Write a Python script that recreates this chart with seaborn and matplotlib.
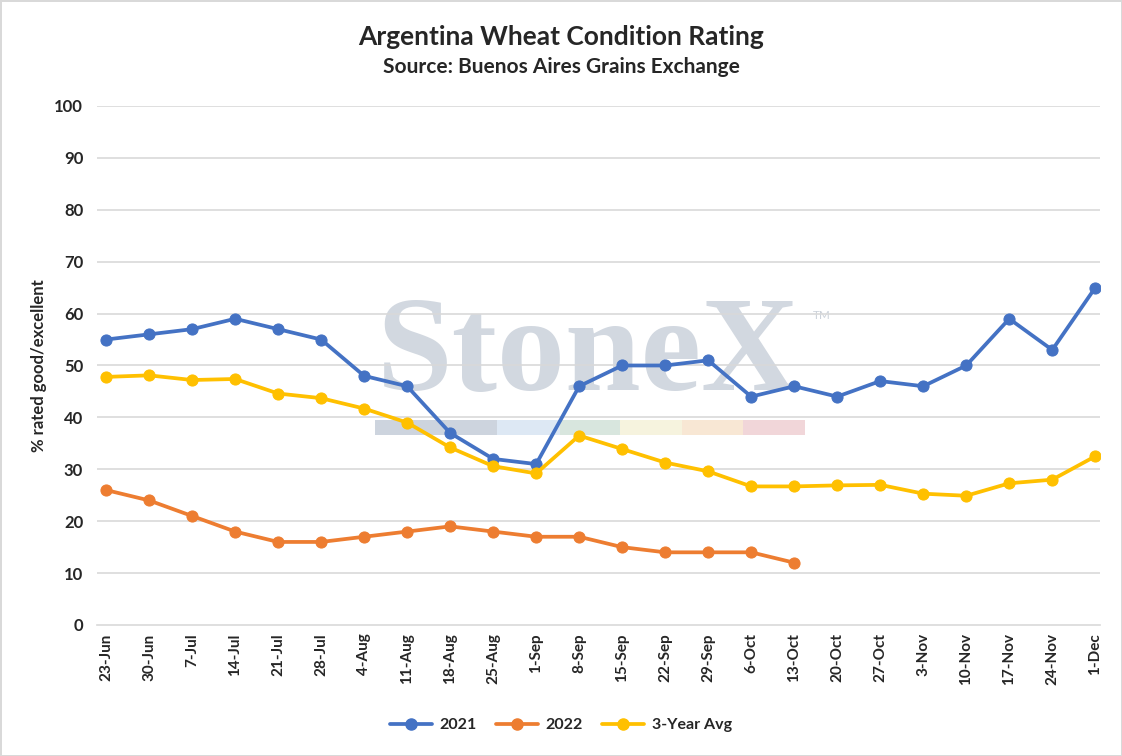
import numpy as np
import pandas as pd
import matplotlib
matplotlib.use("Agg")
import matplotlib.pyplot as plt
import seaborn as sns
from matplotlib.patches import Rectangle
from matplotlib.lines import Line2D

dates = ["23-Jun", "30-Jun", "7-Jul", "14-Jul", "21-Jul", "28-Jul", "4-Aug", "11-Aug",
         "18-Aug", "25-Aug", "1-Sep", "8-Sep", "15-Sep", "22-Sep", "29-Sep", "6-Oct",
         "13-Oct", "20-Oct", "27-Oct", "3-Nov", "10-Nov", "17-Nov", "24-Nov", "1-Dec"]
s2021 = [55, 56, 57, 59, 57, 55, 48, 46, 37, 32, 31, 46, 50, 50, 51, 44, 46, 44, 47, 46, 50, 59, 53, 65]
s2022 = [26, 24, 21, 18, 16, 16, 17, 18, 19, 18, 17, 17, 15, 14, 14, 14, 12]
avg3 = [47.8, 48.1, 47.2, 47.4, 44.6, 43.7, 41.7, 39.0, 34.2, 30.6, 29.2, 36.5, 33.9, 31.3,
        29.6, 26.7, 26.7, 26.9, 27.0, 25.3, 24.9, 27.3, 28.0, 32.5]
series_names = ["2021", "2022", "3-Year Avg"]
colors = ["#4472C4", "#ED7D31", "#FFC000"]

rows = []
for name, vals in zip(series_names, [s2021, s2022, avg3]):
    for i, v in enumerate(vals):
        rows.append({"idx": i, "date": dates[i], "value": v, "series": name})
df = pd.DataFrame(rows)

sns.set_theme(style="white")
plt.rcParams["font.family"] = ["Lato", "DejaVu Sans"]

fig = plt.figure(figsize=(11.22, 7.56), dpi=100)
fig.patch.set_facecolor("white")
fig.patch.set_edgecolor("#d9d9d9")
fig.patch.set_linewidth(2)
ax = fig.add_axes([0.0865, 0.1733, 0.8935, 0.6865])

# watermark (drawn inside the axes, under the lines)
ax.text(588 / 1122, 1 - 390 / 756, "StoneX", family=["Liberation Serif", "DejaVu Serif"],
        fontsize=98, fontweight="bold", color="#d2d8e0", ha="center", va="baseline",
        zorder=0.5, transform=fig.transFigure, clip_on=False)
ax.text(822 / 1122, 1 - 316 / 756, "TM", fontsize=8.5, color="#ccd2da", ha="center",
        va="center", zorder=0.5, transform=fig.transFigure, clip_on=False)
seg_x = [375, 497, 560, 620, 682, 743, 805]
seg_c = ["#cdd4de", "#dde8f4", "#d8e6de", "#f6f3de", "#f8e7d4", "#f1d6d9"]
for k in range(len(seg_c)):
    ax.add_patch(Rectangle((seg_x[k] / 1122, 1 - 435 / 756), (seg_x[k + 1] - seg_x[k]) / 1122,
                           15 / 756, transform=fig.transFigure, facecolor=seg_c[k],
                           edgecolor="none", zorder=0.5, clip_on=False))

for g in range(10, 101, 10):
    ax.axhline(g, color="#d9d9d9", lw=1.2, zorder=1)

for name, col in zip(series_names, colors):
    sub = df[df["series"] == name]
    sns.lineplot(data=sub, x="idx", y="value", ax=ax, color=col, marker="o",
                 markersize=8, markeredgecolor=col, linewidth=2.7, zorder=3, legend=False)

ax.set_xlim(-0.21, 23.1)
ax.set_ylim(0, 100)
ax.set_yticks(range(0, 101, 10))
ax.set_yticklabels([str(v) for v in range(0, 101, 10)], fontsize=12, fontweight="bold")
ax.set_xticks(range(len(dates)))
ax.set_xticklabels(dates, rotation=90, fontsize=11, fontweight="bold")
ax.tick_params(axis="y", length=0, pad=10)
ax.tick_params(axis="x", length=0, pad=6)
ax.set_xlabel("")
ax.set_ylabel("% rated good/excellent", fontsize=12, fontweight="bold", labelpad=5)
for s in ["top", "right", "left"]:
    ax.spines[s].set_visible(False)
ax.spines["bottom"].set_color("#d9d9d9")
ax.spines["bottom"].set_linewidth(1.2)

fig.text(0.5, 0.951, "Argentina Wheat Condition Rating", ha="center", va="center",
         fontsize=19, fontweight="bold")
fig.text(0.5, 0.911, "Source: Buenos Aires Grains Exchange", ha="center", va="center",
         fontsize=15, fontweight="bold")

handles = [Line2D([0], [0], color=c, marker="o", markersize=8, linewidth=2.7) for c in colors]
fig.legend(handles, series_names, loc="center", bbox_to_anchor=(0.5, 0.041), ncol=3,
           frameon=False, prop={"weight": "bold", "size": 11.5}, handlelength=2.6,
           handletextpad=0.5, columnspacing=1.2)

fig.savefig("out.png", dpi=100, facecolor=fig.get_facecolor(), edgecolor=fig.get_edgecolor())
